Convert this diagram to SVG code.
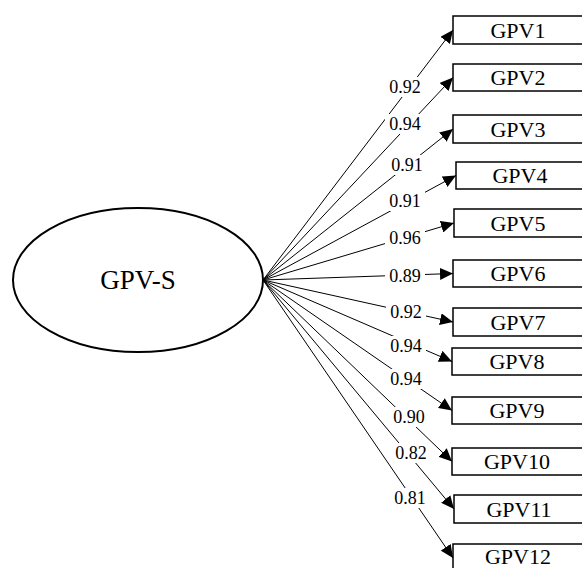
<svg xmlns="http://www.w3.org/2000/svg" width="582" height="568" viewBox="0 0 582 568">
<style>
.box{fill:#fff;stroke:#000;stroke-width:1.5}
.bt{font-family:"Liberation Serif",serif;font-size:22px;text-anchor:middle;fill:#000}
.lb{font-family:"Liberation Serif",serif;font-size:18px;text-anchor:middle;fill:#000}
.bg{fill:#fff}
.ln{stroke:#000;stroke-width:1;fill:none;marker-end:url(#ah)}
</style>
<defs>
<marker id="ah" markerUnits="userSpaceOnUse" markerWidth="14" markerHeight="12" refX="13" refY="6" orient="auto">
<path d="M0,0 L13,6 L0,12 Z" fill="#000"/>
</marker>
</defs>
<g id="GPV-S">
<ellipse cx="138" cy="280" rx="125" ry="72" fill="#fff" stroke="#000" stroke-width="2"/>
<text class="bt" x="138" y="289" style="font-size:27px">GPV-S</text>
</g>
<g id="connectors">
<line class="ln" x1="263" y1="280" x2="453" y2="30"/>
<line class="ln" x1="263" y1="280" x2="453" y2="77.5"/>
<line class="ln" x1="263" y1="280" x2="453" y2="129"/>
<line class="ln" x1="263" y1="280" x2="456" y2="175.5"/>
<line class="ln" x1="263" y1="280" x2="454" y2="223"/>
<line class="ln" x1="263" y1="280" x2="453" y2="273.5"/>
<line class="ln" x1="263" y1="280" x2="453" y2="322"/>
<line class="ln" x1="263" y1="280" x2="452" y2="361.5"/>
<line class="ln" x1="263" y1="280" x2="452" y2="410.5"/>
<line class="ln" x1="263" y1="280" x2="452" y2="461.5"/>
<line class="ln" x1="263" y1="280" x2="454" y2="509"/>
<line class="ln" x1="263" y1="280" x2="453" y2="558"/>
</g>
<g id="labels">
<rect class="bg" x="385" y="77" width="40" height="20"/><text class="lb" x="405" y="93">0.92</text>
<rect class="bg" x="385" y="114" width="40" height="20"/><text class="lb" x="405" y="130">0.94</text>
<rect class="bg" x="387" y="155" width="40" height="20"/><text class="lb" x="407" y="171">0.91</text>
<rect class="bg" x="385" y="191" width="40" height="20"/><text class="lb" x="405" y="207">0.91</text>
<rect class="bg" x="385" y="228" width="40" height="20"/><text class="lb" x="405" y="244">0.96</text>
<rect class="bg" x="385" y="266" width="40" height="20"/><text class="lb" x="405" y="282">0.89</text>
<rect class="bg" x="386" y="302" width="40" height="20"/><text class="lb" x="406" y="318">0.92</text>
<rect class="bg" x="386" y="336" width="40" height="20"/><text class="lb" x="406" y="352">0.94</text>
<rect class="bg" x="386" y="369" width="40" height="20"/><text class="lb" x="406" y="385">0.94</text>
<rect class="bg" x="389" y="407" width="40" height="20"/><text class="lb" x="409" y="423">0.90</text>
<rect class="bg" x="391" y="443" width="40" height="20"/><text class="lb" x="411" y="459">0.82</text>
<rect class="bg" x="390" y="488" width="40" height="20"/><text class="lb" x="410" y="504">0.81</text>
</g>
<g id="GPV1"><rect class="box" x="453" y="16" width="140" height="28"/><text class="bt" x="518" y="37.5">GPV1</text></g>
<g id="GPV2"><rect class="box" x="453" y="64" width="140" height="27"/><text class="bt" x="518" y="85">GPV2</text></g>
<g id="GPV3"><rect class="box" x="453" y="115" width="140" height="28"/><text class="bt" x="518" y="136.5">GPV3</text></g>
<g id="GPV4"><rect class="box" x="456" y="162" width="140" height="27"/><text class="bt" x="520" y="183">GPV4</text></g>
<g id="GPV5"><rect class="box" x="454" y="209" width="140" height="28"/><text class="bt" x="518" y="230.5">GPV5</text></g>
<g id="GPV6"><rect class="box" x="453" y="260" width="140" height="27"/><text class="bt" x="518" y="281">GPV6</text></g>
<g id="GPV7"><rect class="box" x="453" y="308" width="140" height="28"/><text class="bt" x="518" y="329.5">GPV7</text></g>
<g id="GPV8"><rect class="box" x="452" y="348" width="140" height="27"/><text class="bt" x="517" y="369">GPV8</text></g>
<g id="GPV9"><rect class="box" x="452" y="397" width="140" height="27"/><text class="bt" x="517" y="418">GPV9</text></g>
<g id="GPV10"><rect class="box" x="452" y="448" width="140" height="27"/><text class="bt" x="517" y="469">GPV10</text></g>
<g id="GPV11"><rect class="box" x="454" y="495" width="140" height="28"/><text class="bt" x="519" y="516.5">GPV11</text></g>
<g id="GPV12"><rect class="box" x="453" y="544" width="140" height="28"/><text class="bt" x="518" y="564">GPV12</text></g>
</svg>
